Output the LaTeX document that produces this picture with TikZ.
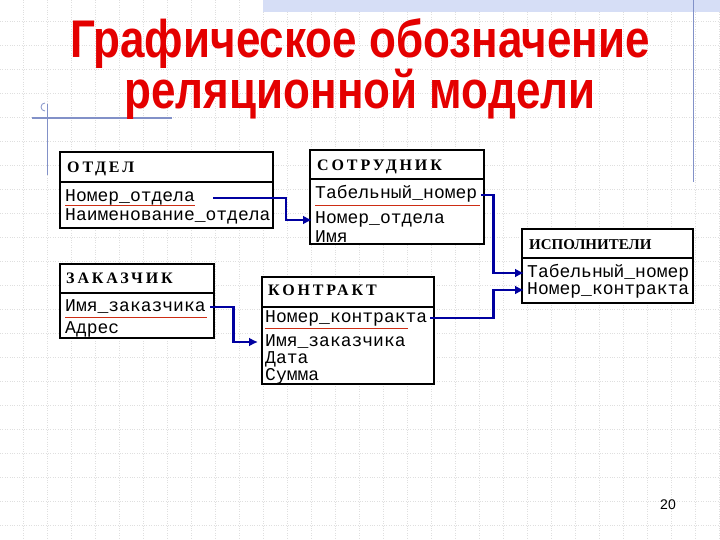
\documentclass[tikz,border=0pt]{standalone}
\usepackage{fontspec}
\setmainfont{Liberation Sans}
\newfontfamily\monofnt{Liberation Mono}
\newfontfamily\hdrfnt[LetterSpace=18]{Liberation Serif}
\newfontfamily\hdrtight{Liberation Serif}
\usepackage{tikz}
\usetikzlibrary{arrows.meta,positioning,calc}
\definecolor{titlered}{RGB}{228,0,0}
\definecolor{linkblue}{RGB}{0,0,160}
\definecolor{keyred}{RGB}{205,45,20}
\definecolor{frameblue}{RGB}{130,145,200}
\definecolor{bandblue}{RGB}{214,222,246}

\tikzset{
  fld/.style={font=\monofnt\fontsize{18}{18}\selectfont, anchor=base west, inner sep=0pt,
              text height=11pt, text depth=3pt},
  hdr/.style={font=\hdrfnt\bfseries\fontsize{16}{16}\selectfont, anchor=base west, inner sep=0pt},
  tbl/.style={draw=black, line width=1.3pt, fill=white},
  sep/.style={draw=black, line width=2pt},
  link/.style={draw=linkblue, line width=2.8pt, -{Latex[length=9pt,width=9pt]}},
  pk/.style={draw=keyred, line width=1pt},
}

\begin{document}
\begin{tikzpicture}[x=1pt,y=-1pt]
\useasboundingbox (0,0) rectangle (720,540);
\fill[white] (0,0) rectangle (720,540);
% background grid
\foreach \x in {23,47,...,719} {
    \draw[gray!25, dotted] (\x,0) -- (\x,540);
}
\foreach \y in {21,45,...,539} {
    \draw[gray!25, dotted] (0,\y) -- (720,\y);
}
\fill[bandblue] (263,0) rectangle (720,12);
\draw[frameblue, line width=1pt] (693,0) -- (693,182);
\draw[frameblue, line width=1.2pt] (32,118) -- (172,118);
\draw[frameblue, line width=0.8pt] (47,104) -- (47,175);
\draw[frameblue, line width=0.8pt] (45,111) arc (90:270:4);

% title
\node[font=\bfseries\fontsize{53}{43}\selectfont, text=titlered, align=center] (title) at (360,69)
    {\scalebox{0.83}[1]{Графическое обозначение}\\\scalebox{0.83}[1]{реляционной модели}};

% ОТДЕЛ
\draw[tbl] (60,152) rectangle (273,228);
\draw[sep] (60,182) -- (273,182);
\node[hdr] (otdel) at (67,173) {ОТДЕЛ};
\node[fld] (otdnum) at (65,202) {Номер\_отдела};
\node[fld] (otdname) at (65,221) {Наименование\_отдела};
\draw[pk] (65,206) -- (195,206);

% СОТРУДНИК
\draw[tbl] (310,150) rectangle (484,244);
\draw[sep] (310,179) -- (484,179);
\node[hdr] (sotr) at (317,171) {СОТРУДНИК};
\node[fld] (sottab) at (315,199) {Табельный\_номер};
\node[fld] (sotnum) at (315,224) {Номер\_отдела};
\node[fld] (sotname) at (315,242) {Имя};
\draw[pk] (315,206) -- (480,206);

% ИСПОЛНИТЕЛИ
\draw[tbl] (522,229) rectangle (693,303);
\draw[sep] (522,258) -- (693,258);
\node[hdr, font=\hdrtight\bfseries\fontsize{15}{15}\selectfont] (ispoln) at (529,249) {ИСПОЛНИТЕЛИ};
\node[fld] (isptab) at (527,277) {Табельный\_номер};
\node[fld] (ispnum) at (527,294) {Номер\_контракта};

% ЗАКАЗЧИК
\draw[tbl] (60,264) rectangle (214,338);
\draw[sep] (60,293) -- (214,293);
\node[hdr] (zakaz) at (66,283) {ЗАКАЗЧИК};
\node[fld] (zakname) at (65,311) {Имя\_заказчика};
\node[fld] (zakaddr) at (65,333) {Адрес};
\draw[pk] (65,317) -- (207,317);

% КОНТРАКТ
\draw[tbl] (262,277) rectangle (434,384);
\draw[sep] (262,307) -- (434,307);
\node[hdr] (kontr) at (268,295) {КОНТРАКТ};
\node[fld] (konnum) at (265,322) {Номер\_контракта};
\node[fld] (konzak) at (265,346) {Имя\_заказчика};
\node[fld] (kondate) at (265,363) {Дата};
\node[fld] (konsum) at (265,380) {Сумма};
\draw[pk] (265,328) -- (408,328);

% links
\draw[link] ([xshift=18pt]otdnum.east) -- ++(73,0) |- ([xshift=-3pt]sotnum.west);
\draw[link] ([xshift=4pt]sottab.east) -- ++(12,0) |- ([xshift=-3pt]isptab.west);
\draw[link] ([xshift=4pt]zakname.east) -- ++(24,0) |- ([xshift=-7pt]konzak.west);
\draw[link] ([xshift=3pt]konnum.east) -- ++(63,0) |- ([xshift=-3pt]ispnum.west);

\node[font=\fontsize{14}{14}\selectfont] (pagenum) at (668,505) {20};
\end{tikzpicture}
\end{document}
